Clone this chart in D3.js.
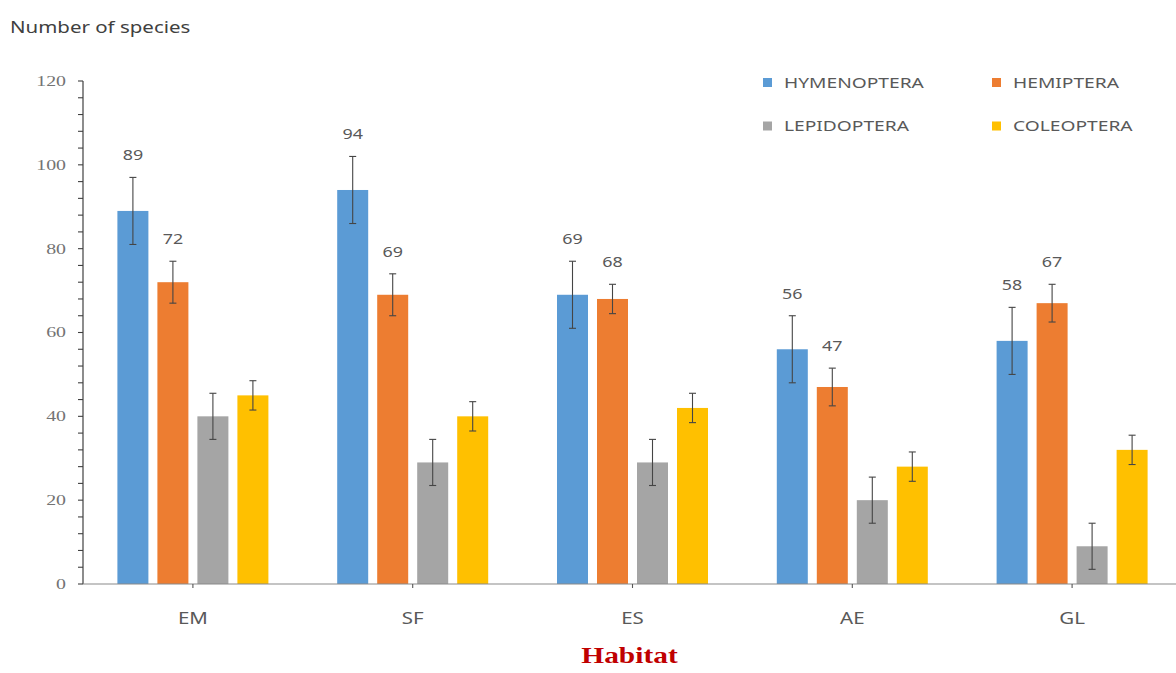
<!DOCTYPE html>
<html>
<head>
<meta charset="utf-8">
<script src="https://cdn.jsdelivr.net/npm/d3@7"></script>
<style>
  html, body { margin: 0; padding: 0; background: #fff; }
  svg { display: block; }
</style>
</head>
<body>
<svg id="chart" width="1176" height="673"></svg>
<script>
// Habitats on the x axis
const habitats = ["EM", "SF", "ES", "AE", "GL"];
// Insect orders (series)
const orders = ["HYMENOPTERA", "HEMIPTERA", "LEPIDOPTERA", "COLEOPTERA"];
// Number of species per habitat, one array per order
const hymenoptera = [89, 94, 69, 56, 58];
const hemiptera   = [72, 69, 68, 47, 67];
const lepidoptera = [40, 29, 29, 20, 9];
const coleoptera  = [45, 40, 42, 28, 32];
// Error bar half-widths
const hymenopteraErr = [8, 8, 8, 8, 8];
const hemipteraErr   = [5, 5, 3.5, 4.5, 4.5];
const lepidopteraErr = [5.5, 5.5, 5.5, 5.5, 5.5];
const coleopteraErr  = [3.5, 3.5, 3.5, 3.5, 3.5];
// Orders whose bars carry a value label
const labelledOrders = ["HYMENOPTERA", "HEMIPTERA"];
// Y axis ticks
const yTickLabels = [0, 20, 40, 60, 80, 100, 120];

const valuesByOrder = {
  HYMENOPTERA: hymenoptera, HEMIPTERA: hemiptera,
  LEPIDOPTERA: lepidoptera, COLEOPTERA: coleoptera
};
const errByOrder = {
  HYMENOPTERA: hymenopteraErr, HEMIPTERA: hemipteraErr,
  LEPIDOPTERA: lepidopteraErr, COLEOPTERA: coleopteraErr
};
const colors = {
  HYMENOPTERA: "#5b9bd5", HEMIPTERA: "#ed7d31",
  LEPIDOPTERA: "#a5a5a5", COLEOPTERA: "#ffc000"
};

const rows = [];
habitats.forEach((h, i) => {
  orders.forEach(o => {
    rows.push({ habitat: h, order: o, value: valuesByOrder[o][i], err: errByOrder[o][i] });
  });
});

const svg = d3.select("#chart");
const SX = 1.28; // horizontal text stretch
const sansFont = "'Noto Sans', 'Open Sans', sans-serif";
const serifFont = "'Liberation Serif', 'DejaVu Serif', serif";

const plot = { left: 83, right: 1182, top: 81, bottom: 584 };

const x0 = d3.scaleBand().domain(habitats).range([plot.left, plot.right]).padding(0);
const x1 = d3.scaleBand().domain(orders).range([0, x0.bandwidth()])
  .paddingInner(0.225).paddingOuter(0.86);
const y = d3.scaleLinear().domain([0, 120]).range([plot.bottom, plot.top]);

function stretchedText(sel, x, yPos) {
  return sel.attr("transform", `translate(${x},${yPos}) scale(${SX},1)`);
}

// Bars
const groups = svg.append("g").selectAll("g")
  .data(habitats).join("g")
  .attr("transform", d => `translate(${x0(d)},0)`);

groups.selectAll("rect")
  .data(h => rows.filter(r => r.habitat === h))
  .join("rect")
  .attr("x", d => x1(d.order))
  .attr("y", d => y(d.value))
  .attr("width", x1.bandwidth())
  .attr("height", d => y(0) - y(d.value))
  .attr("fill", d => colors[d.order]);

// Error bars
const capHalf = 3.5;
const eb = groups.selectAll("g.err")
  .data(h => rows.filter(r => r.habitat === h))
  .join("g").attr("class", "err")
  .attr("stroke", "#454545").attr("stroke-width", 1.1);
eb.append("line")
  .attr("x1", d => x1(d.order) + x1.bandwidth() / 2)
  .attr("x2", d => x1(d.order) + x1.bandwidth() / 2)
  .attr("y1", d => y(d.value + d.err))
  .attr("y2", d => y(d.value - d.err));
eb.append("line")
  .attr("x1", d => x1(d.order) + x1.bandwidth() / 2 - capHalf)
  .attr("x2", d => x1(d.order) + x1.bandwidth() / 2 + capHalf)
  .attr("y1", d => y(d.value + d.err))
  .attr("y2", d => y(d.value + d.err));
eb.append("line")
  .attr("x1", d => x1(d.order) + x1.bandwidth() / 2 - capHalf)
  .attr("x2", d => x1(d.order) + x1.bandwidth() / 2 + capHalf)
  .attr("y1", d => y(d.value - d.err))
  .attr("y2", d => y(d.value - d.err));

// Value labels above the error bars
groups.selectAll("text.val")
  .data(h => rows.filter(r => r.habitat === h && labelledOrders.includes(r.order)))
  .join("text").attr("class", "val")
  .each(function (d) {
    stretchedText(d3.select(this), x1(d.order) + x1.bandwidth() / 2,
      y(d.value + d.err) - 22);
  })
  .attr("text-anchor", "middle")
  .attr("dy", "0.36em")
  .attr("font-family", sansFont)
  .attr("font-size", 14)
  .attr("fill", "#595959")
  .text(d => d.value);

// Y axis: line, minor ticks every 4, labels every 20
const yAxisG = svg.append("g");
yAxisG.append("line")
  .attr("x1", plot.left).attr("x2", plot.left)
  .attr("y1", y(0)).attr("y2", y(120))
  .attr("stroke", "#404040").attr("stroke-width", 1.2);
yAxisG.selectAll("line.tick")
  .data(d3.range(0, 121, 4))
  .join("line").attr("class", "tick")
  .attr("x1", plot.left - 5).attr("x2", plot.left)
  .attr("y1", d => y(d)).attr("y2", d => y(d))
  .attr("stroke", "#404040").attr("stroke-width", 1.1);
yAxisG.selectAll("text")
  .data(yTickLabels)
  .join("text")
  .each(function (d) { stretchedText(d3.select(this), plot.left - 17, y(d)); })
  .attr("text-anchor", "end")
  .attr("dy", "0.32em")
  .attr("font-family", serifFont)
  .attr("font-size", 15.5)
  .attr("fill", "#737373")
  .text(d => d);

// X axis
const xAxisG = svg.append("g");
xAxisG.append("line")
  .attr("x1", plot.left).attr("x2", 1176)
  .attr("y1", y(0)).attr("y2", y(0))
  .attr("stroke", "#8a8a8a").attr("stroke-width", 1.2);
xAxisG.selectAll("line.tick")
  .data(habitats)
  .join("line").attr("class", "tick")
  .attr("x1", d => x0(d) + x0.bandwidth() / 2).attr("x2", d => x0(d) + x0.bandwidth() / 2)
  .attr("y1", y(0)).attr("y2", y(0) + 4)
  .attr("stroke", "#555").attr("stroke-width", 1.1);
xAxisG.selectAll("text")
  .data(habitats)
  .join("text")
  .each(function (d) { stretchedText(d3.select(this), x0(d) + x0.bandwidth() / 2, 618); })
  .attr("text-anchor", "middle")
  .attr("dy", "0.35em")
  .attr("font-family", sansFont)
  .attr("font-size", 16)
  .attr("fill", "#595959")
  .text(d => d);

// Axis titles
stretchedText(svg.append("text"), 10, 27)
  .attr("dy", "0.35em")
  .attr("font-family", sansFont)
  .attr("font-size", 16)
  .attr("fill", "#404040")
  .text("Number of species");

stretchedText(svg.append("text"), (plot.left + 1176) / 2, 655)
  .attr("text-anchor", "middle")
  .attr("dy", "0.35em")
  .attr("font-family", serifFont)
  .attr("font-weight", "bold")
  .attr("font-size", 23)
  .attr("fill", "#c00000")
  .text("Habitat");

// Legend (2 x 2)
const legendPos = [
  { col: 0, row: 0 }, { col: 1, row: 0 }, { col: 0, row: 1 }, { col: 1, row: 1 }
];
const legend = svg.append("g");
const legendItems = legend.selectAll("g")
  .data(orders)
  .join("g")
  .attr("transform", (d, i) => `translate(${763 + legendPos[i].col * 229},${82.5 + legendPos[i].row * 43.5})`);
legendItems.append("rect")
  .attr("x", 0).attr("y", -4.5).attr("width", 9).attr("height", 9)
  .attr("fill", d => colors[d]);
legendItems.append("text")
  .each(function () { stretchedText(d3.select(this), 21, 0); })
  .attr("dy", "0.36em")
  .attr("font-family", sansFont)
  .attr("font-size", 15)
  .attr("fill", "#595959")
  .text(d => d);
</script>
</body>
</html>
